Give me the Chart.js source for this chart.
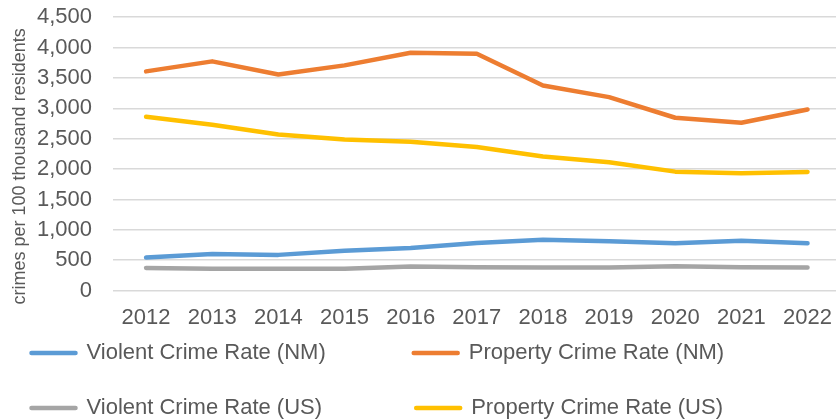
<!DOCTYPE html>
<html>
<head>
<meta charset="utf-8">
<script src="https://cdn.jsdelivr.net/npm/chart.js@4/dist/chart.umd.min.js"></script>
<style>
  html, body { margin: 0; padding: 0; background: #ffffff; }
  #wrap { position: relative; width: 836px; height: 419px; overflow: hidden; background: #fff; }
  #c { position: absolute; left: -3px; top: -17px; }
</style>
</head>
<body>
<div id="wrap"><canvas id="c" width="849" height="482"></canvas></div>
<script>
const years = ['2012','2013','2014','2015','2016','2017','2018','2019','2020','2021','2022'];
const violentNM  = [544, 604, 588, 656, 702, 783, 835, 813, 778, 820, 780];
const propertyNM = [3608, 3773, 3558, 3707, 3916, 3899, 3377, 3185, 2845, 2762, 2982];
const violentUS  = [374, 360, 358, 360, 398, 386, 382, 380, 400, 385, 382];
const propertyUS = [2860, 2729, 2570, 2488, 2450, 2362, 2208, 2114, 1958, 1933, 1954];
const seriesNames = ['Violent Crime Rate (NM)', 'Property Crime Rate (NM)', 'Violent Crime Rate (US)', 'Property Crime Rate (US)'];
const seriesColors = ['#5B9BD5', '#ED7D31', '#A5A5A5', '#FFC000'];
const yTitle = 'crimes per 100 thousand residents';

const FONT = "'Liberation Sans', Arial, sans-serif";
const TEXT = '#595959';

function ds(label, data, color) {
  return {
    label, data,
    borderColor: color, backgroundColor: color,
    borderWidth: 4.5, borderCapStyle: 'round', borderJoinStyle: 'round',
    pointRadius: 0, pointHoverRadius: 0, tension: 0, fill: false
  };
}

const LEG_FONT = 22, LEG_PAD = 33, LEG_BOX = 44, LEG_TOP = 326, LEG_DX = 1.5;
const COL_W = 384.5 - LEG_PAD; // width of first-column item

// moves the bottom legend so it sits just under the x tick labels
const legendShift = {
  id: 'legendShift',
  afterLayout(chart) {
    const lg = chart.legend;
    if (!lg) return;
    const d = lg.top - LEG_TOP;
    lg.top -= d; lg.bottom -= d;
    lg.left += LEG_DX; lg.right += LEG_DX;
  }
};

new Chart(document.getElementById('c'), {
  type: 'line',
  data: {
    labels: years,
    datasets: [
      ds(seriesNames[0], violentNM, seriesColors[0]),
      ds(seriesNames[1], propertyNM, seriesColors[1]),
      ds(seriesNames[2], violentUS, seriesColors[2]),
      ds(seriesNames[3], propertyUS, seriesColors[3])
    ]
  },
  plugins: [legendShift],
  options: {
    responsive: false,
    animation: false,
    devicePixelRatio: 1,
    layout: { padding: { top: 2, left: 0, right: 0, bottom: 0 } },
    plugins: {
      tooltip: { enabled: false },
      legend: {
        position: 'bottom',
        align: 'start',
        labels: {
          font: { family: FONT, size: LEG_FONT },
          color: TEXT,
          padding: LEG_PAD,
          usePointStyle: true,
          pointStyle: 'line',
          pointStyleWidth: LEG_BOX,
          generateLabels(chart) {
            const items = Chart.defaults.plugins.legend.labels.generateLabels(chart);
            const ctx = chart.ctx;
            ctx.save();
            ctx.font = LEG_FONT + 'px ' + FONT;
            const target = COL_W - LEG_BOX - LEG_FONT / 2;
            items.forEach((it, i) => {
              it.pointStyle = 'line';
              it.lineCap = 'round';
              if (i % 2 === 0) {
                let t = it.text;
                while (Math.abs(ctx.measureText(t + ' ').width - target) < Math.abs(ctx.measureText(t).width - target)) t += ' ';
                it.text = t;
              }
            });
            ctx.restore();
            return items;
          }
        }
      }
    },
    scales: {
      x: {
        offset: true,
        grid: { display: false, drawTicks: false },
        border: { display: false },
        ticks: { font: { family: FONT, size: 22 }, color: TEXT, padding: 14, maxRotation: 0, autoSkip: false }
      },
      y: {
        min: 0, max: 4500,
        ticks: { stepSize: 500, autoSkip: false, font: { family: FONT, size: 22 }, color: TEXT, padding: 21 },
        grid: { color: '#d9d9d9', lineWidth: 1.5, drawTicks: false },
        border: { display: false },
        title: { display: true, text: yTitle + '     ', font: { family: FONT, size: 18 }, color: TEXT, padding: { top: 12, bottom: 0 } },
        afterFit(scale) { scale.width = 116; }
      }
    }
  }
});
</script>
</body>
</html>
